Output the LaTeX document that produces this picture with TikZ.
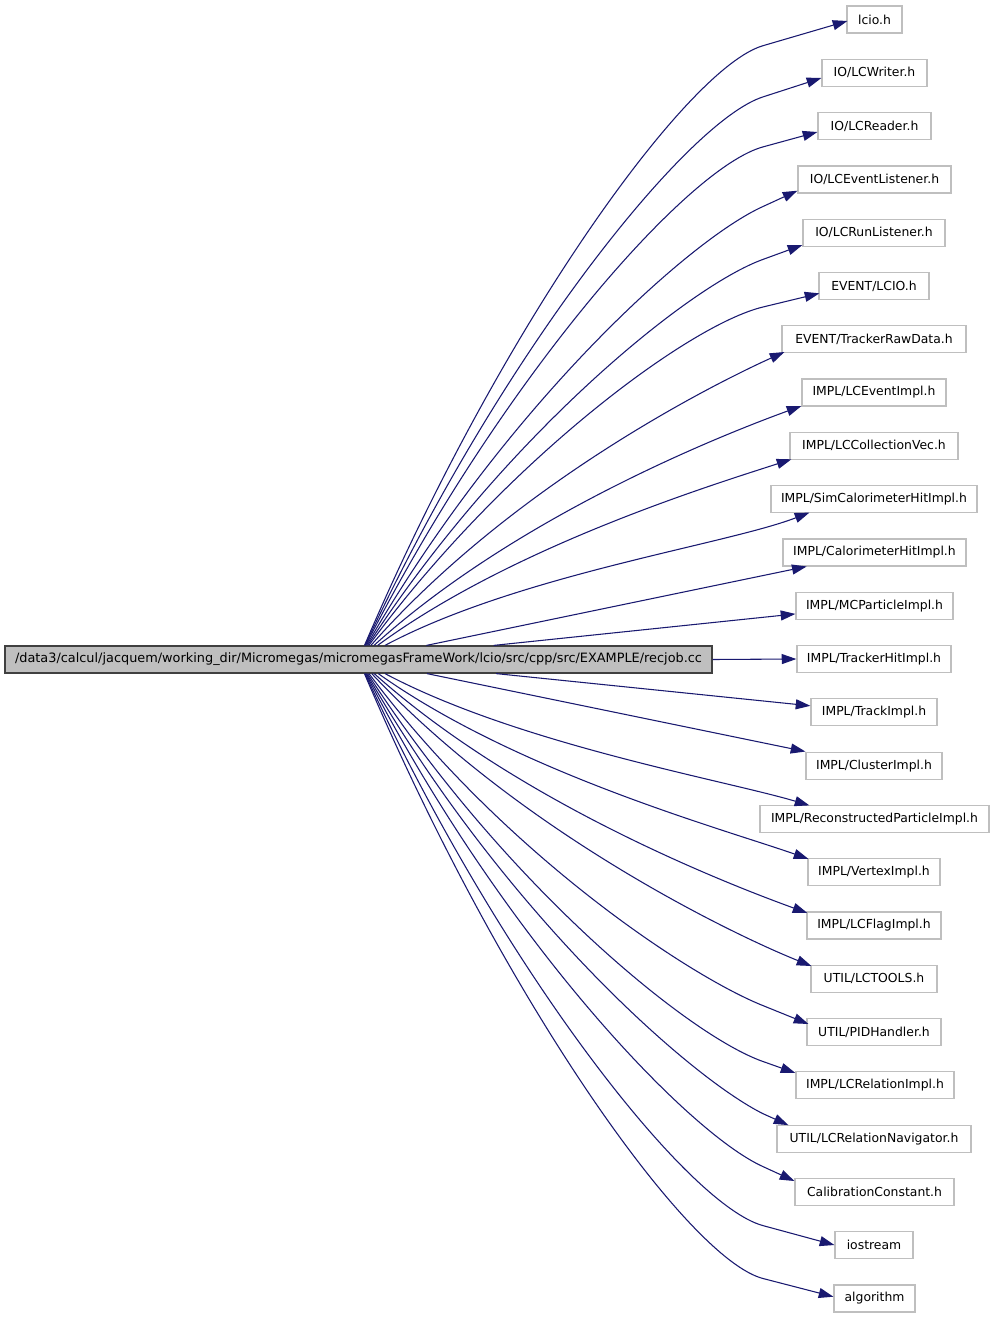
\documentclass[tikz,border=0pt]{standalone}
\usepackage{fontspec}
\setmainfont{DejaVu Sans}
\usetikzlibrary{arrows.meta,calc}
\definecolor{edgecol}{HTML}{191970}
\definecolor{boxgray}{HTML}{BFBFBF}
\definecolor{mainborder}{HTML}{404040}
\begin{document}
\begin{tikzpicture}[x=0.75pt,y=-0.75pt,
  tbox/.style={draw=boxgray, line width=0.9pt, rectangle, minimum height=20.25pt, inner sep=0pt, font=\fontsize{9.3}{10}\selectfont, text=black},
  bw/.style={minimum width=#1*0.75pt},
  mainbox/.style={draw=mainborder, fill=boxgray, line width=0.9pt, rectangle, minimum height=20.25pt, minimum width=530.25pt, inner sep=0pt, font=\fontsize{9.65}{10}\selectfont, text=black},
  edge/.style={draw=edgecol, line width=0.8pt, -{Triangle[length=11pt,width=7.5pt]}}
]
\fill[white] (0,0) rectangle (995,1320);
\useasboundingbox (0,0) rectangle (995,1320);

\node[mainbox] (main) at (358.5,659.5) {/data3/calcul/jacquem/working\_dir/Micromegas/micromegasFrameWork/lcio/src/cpp/src/EXAMPLE/recjob.cc};

\node[tbox,bw=55]  (n0)  at (874.5,19.5)   {lcio.h};
\node[tbox,bw=105] (n1)  at (874.5,72.8)   {IO/LCWriter.h};
\node[tbox,bw=113] (n2)  at (874.5,126.1)  {IO/LCReader.h};
\node[tbox,bw=153] (n3)  at (874.5,179.4)  {IO/LCEventListener.h};
\node[tbox,bw=142] (n4)  at (874,232.7)    {IO/LCRunListener.h};
\node[tbox,bw=110] (n5)  at (874,285.95)   {EVENT/LCIO.h};
\node[tbox,bw=184] (n6)  at (874,339.2)    {EVENT/TrackerRawData.h};
\node[tbox,bw=144] (n7)  at (874,392.5)    {IMPL/LCEventImpl.h};
\node[tbox,bw=168] (n8)  at (874,445.8)    {IMPL/LCCollectionVec.h};
\node[tbox,bw=206] (n9)  at (874,499.1)    {IMPL/SimCalorimeterHitImpl.h};
\node[tbox,bw=183] (n10) at (874.5,552.4)  {IMPL/CalorimeterHitImpl.h};
\node[tbox,bw=157] (n11) at (874.5,605.7)  {IMPL/MCParticleImpl.h};
\node[tbox,bw=154] (n12) at (874,659)      {IMPL/TrackerHitImpl.h};
\node[tbox,bw=126] (n13) at (874,712.3)    {IMPL/TrackImpl.h};
\node[tbox,bw=136] (n14) at (874,765.6)    {IMPL/ClusterImpl.h};
\node[tbox,bw=229] (n15) at (874.5,818.9)  {IMPL/ReconstructedParticleImpl.h};
\node[tbox,bw=132] (n16) at (874,872.1)    {IMPL/VertexImpl.h};
\node[tbox,bw=134] (n17) at (874,925.4)    {IMPL/LCFlagImpl.h};
\node[tbox,bw=126] (n18) at (874,978.7)    {UTIL/LCTOOLS.h};
\node[tbox,bw=134] (n19) at (874,1032)     {UTIL/PIDHandler.h};
\node[tbox,bw=158] (n20) at (875,1085.3)   {IMPL/LCRelationImpl.h};
\node[tbox,bw=194] (n21) at (874,1138.6)   {UTIL/LCRelationNavigator.h};
\node[tbox,bw=159] (n22) at (874.5,1191.9) {CalibrationConstant.h};
\node[tbox,bw=78]  (n23) at (874,1245.2)   {iostream};
\node[tbox,bw=81]  (n24) at (874.5,1298.5) {algorithm};

% upper fan
\draw[edge] (main) .. controls (501.7,324.2) and (687.2,67.7) .. (763,45.7) -- ($(n0.west)+(1,1.5)$);
\draw[edge] (main) .. controls (501.7,351.7) and (687.2,121.2) .. (763,96.9) -- ($(n1.west)+(0,5.2)$);
\draw[edge] (main) .. controls (501.7,378.5) and (687.2,167.4) .. (763,146.9) -- ($(n2.west)+(0,5.9)$);
\draw[edge] (main) .. controls (501.7,410.4) and (687.2,240.6) .. (763,206.5) -- ($(n3.west)+(0,11.3)$);
\draw[edge] (main) .. controls (501.7,438.8) and (687.2,286.7) .. (763,259.4) -- ($(n4.west)+(0,12.3)$);
\draw[edge] (main) .. controls (501.7,464.3) and (687.2,325.2) .. (763,307) -- ($(n5.west)+(1,7.4)$);
\draw[edge] (main) .. controls (509.2,488.4) and (705,388) .. ($(n6.west)+(3,12.8)$);
\draw[edge] (main) .. controls (515.1,517.4) and (718.8,436) .. ($(n7.west)+(0,13.5)$);
\draw[edge] (main) .. controls (511.7,546.8) and (710.7,485.4) .. ($(n8.west)+(2,13.5)$);
\draw[edge] (main) .. controls (517.9,574.7) and (725.3,544.8) .. ($(n9.west)+(39,13.5)$);
\draw[edge] (main) -- (n10);
\draw[edge] (main) -- (n11);
% straight
\draw[edge] (main.east) -- (n12.west);
% lower fan
\draw[edge] (main) -- (n13);
\draw[edge] (main) -- (n14);
\draw[edge] (main) .. controls (517.9,744.1) and (725.3,780.3) .. ($(n15.west)+(50,-13.5)$);
\draw[edge] (main) .. controls (517.5,772.7) and (724.4,829.4) .. ($(n16.west)+(1,-13.2)$);
\draw[edge] (main) .. controls (517.2,801.6) and (723.6,882.6) .. ($(n17.west)+(1,-12.4)$);
\draw[edge] (main) .. controls (518.6,830) and (726.9,932) .. ($(n18.west)+(1,-12.7)$);
\draw[edge] (main) .. controls (501.7,851.3) and (687.2,975.3) .. (763,1005.6) -- ($(n19.west)+(2,-8)$);
\draw[edge] (main) .. controls (501.7,881.2) and (687.2,1035) .. (763,1061.5) -- ($(n20.west)+(0,-12.3)$);
\draw[edge] (main) .. controls (501.7,909.2) and (687.2,1075.8) .. (763,1113.7) -- ($(n21.west)+(12,-13.5)$);
\draw[edge] (main) .. controls (501.7,937.6) and (687.2,1132.5) .. (763,1166.6) -- ($(n22.west)+(0,-10.9)$);
\draw[edge] (main) .. controls (501.7,969.2) and (687.2,1205.1) .. (763,1225.6) -- ($(n23.west)+(0,-0.2)$);
\draw[edge] (main) .. controls (501.7,997.5) and (687.2,1258.8) .. (763,1278.5) -- ($(n24.west)+(0,-1.8)$);
\end{tikzpicture}
\end{document}
